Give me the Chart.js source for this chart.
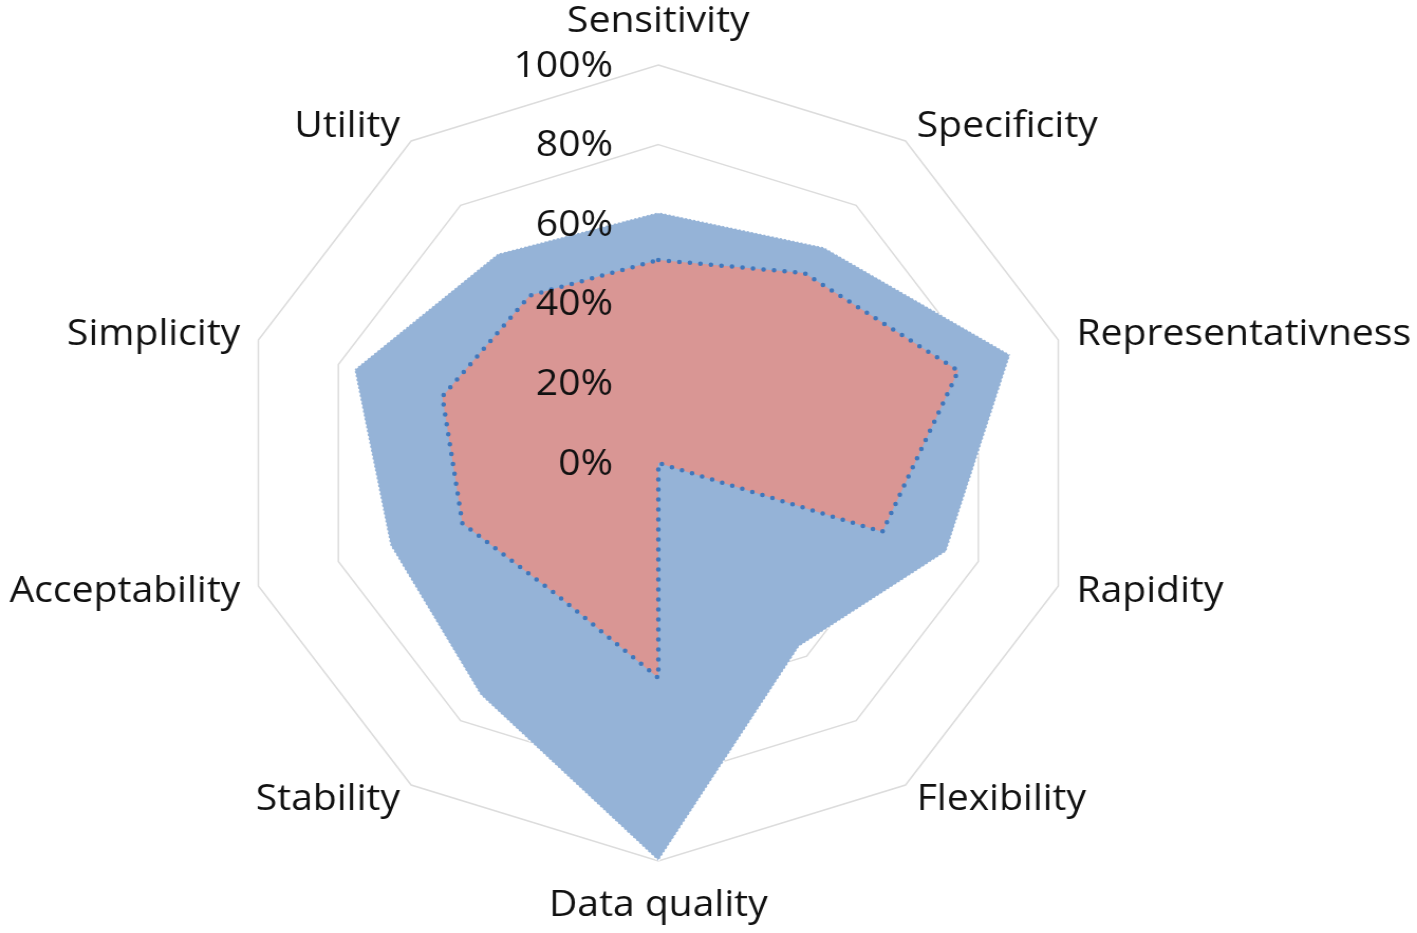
<!DOCTYPE html>
<html lang="en">
<head>
<meta charset="UTF-8">
<title>Surveillance attributes radar</title>
<style>
  body { margin: 0; background: #fff; overflow: hidden; }
  /* the original picture is slightly wider than tall, so stretch the square radar */
  .chart-wrap { width: 1341px; height: 933px; transform: scaleX(1.0567); transform-origin: 0 0; }
</style>
</head>
<body>
<div class="chart-wrap"><canvas id="radarChart" width="1341" height="933"></canvas></div>
<script src="https://cdn.jsdelivr.net/npm/chart.js"></script>
<script>
// categories clockwise from the top
const categories = ['Sensitivity', 'Specificity', 'Representativness', 'Rapidity', 'Flexibility',
                    'Data quality', 'Stability', 'Acceptability', 'Simplicity', 'Utility'];
const seriesBlue = [63, 67, 88, 72, 57, 100, 72, 67, 76, 65];
const seriesRed  = [51, 59, 75, 56, 0, 54, 41, 49, 54, 52];
const tickValues = [0, 20, 40, 60, 80, 100];
const tickLabels = ['0%', '20%', '40%', '60%', '80%', '100%'];

const labelFont = '37px "Open Sans"';
const tickFont = '37px "Open Sans"';

// axis and tick labels drawn by hand so they sit like the original (ticks left of the axis)
const labelPlugin = {
  id: 'radarLabels',
  afterDatasetsDraw(chart) {
    const scale = chart.scales.r;
    const ctx = chart.ctx;
    ctx.save();
    ctx.fillStyle = '#111';
    ctx.textBaseline = 'middle';
    ctx.font = tickFont;
    ctx.textAlign = 'right';
    tickValues.forEach((v, i) => {
      const y = scale.yCenter - scale.getDistanceFromCenterForValue(v);
      ctx.fillText(tickLabels[i], scale.xCenter - 43, y + 1);
    });
    ctx.font = labelFont;
    categories.forEach((name, i) => {
      const edge = scale.getPointPosition(i, scale.drawingArea);
      const dx = edge.x - scale.xCenter;
      const vertical = Math.abs(dx) < 5;
      const p = scale.getPointPosition(i, scale.drawingArea + (vertical ? 44 : 18));
      ctx.textAlign = vertical ? 'center' : (dx > 0 ? 'left' : 'right');
      ctx.fillText(name, p.x, p.y);
    });
    ctx.restore();
  }
};

const ctx = document.getElementById('radarChart').getContext('2d');
const radarChart = new Chart(ctx, {
  type: 'radar',
  data: {
    labels: categories,
    datasets: [{
      label: 'Series 2',
      data: seriesRed,
      fill: true,
      backgroundColor: '#D99694',
      borderColor: '#3F77BC',
      borderWidth: 4.5,
      borderDash: [0, 10],
      borderCapStyle: 'round',
      pointRadius: 0,
      tension: 0
    }, {
      label: 'Series 1',
      data: seriesBlue,
      fill: true,
      backgroundColor: '#95B3D7',
      borderColor: '#FFFFFF',
      borderWidth: 1.5,
      borderDash: [2, 2],
      pointRadius: 0,
      tension: 0
    }]
  },
  options: {
    responsive: false,
    animation: false,
    layout: { padding: { left: 225, right: 320, top: 65, bottom: 72 } },
    plugins: {
      legend: { display: false },
      tooltip: { enabled: false }
    },
    scales: {
      r: {
        min: 0,
        max: 100,
        ticks: { display: false, stepSize: 20 },
        pointLabels: { display: false },
        angleLines: { display: false },
        grid: { color: '#DCDCDC', lineWidth: 1.5 }
      }
    }
  },
  plugins: [labelPlugin]
});
</script>
</body>
</html>
